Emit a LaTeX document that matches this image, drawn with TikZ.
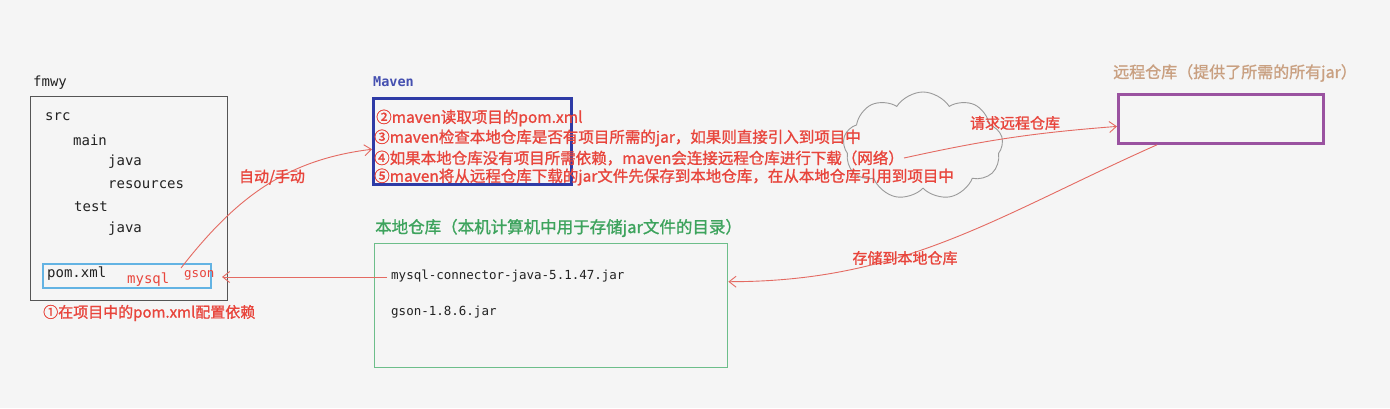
\documentclass[tikz,border=0pt]{standalone}
\usepackage{fontspec}
\setmainfont{Noto Sans CJK SC}
\setmonofont{DejaVu Sans Mono}
\newfontfamily\cjk[FakeBold=1.2]{Noto Sans CJK SC}
\usetikzlibrary{shapes.symbols,arrows.meta,calc}
\definecolor{bg}{HTML}{F5F5F5}
\definecolor{redtxt}{HTML}{E8453C}
\definecolor{redln}{HTML}{E46A62}
\definecolor{mblue}{HTML}{2E3BA6}
\definecolor{mbluetxt}{HTML}{4550B0}
\definecolor{purp}{HTML}{9A52A0}
\definecolor{gbox}{HTML}{6DBE8A}
\definecolor{gtxt}{HTML}{3DA35D}
\definecolor{tan}{HTML}{C9A081}
\definecolor{lblue}{HTML}{63B3E3}
\definecolor{dgray}{HTML}{555555}
\definecolor{cgray}{HTML}{9A9A9A}
\definecolor{ink}{HTML}{222222}
\tikzset{
  boxx/.style={draw, inner sep=0pt, anchor=north west},
  txt/.style={inner sep=0pt, anchor=west},
  tree/.style={txt, text=ink, font=\ttfamily\fontsize{14}{16}\selectfont},
  code/.style={txt, text=ink, font=\ttfamily\fontsize{12.5}{14}\selectfont},
  redline/.style={txt, text=redtxt, font=\cjk\fontsize{15.5}{18}\selectfont},
  conn/.style={draw=redln, line width=0.9pt, -{Straight Barb[length=7pt,width=11pt,line width=0.9pt]}},
}
\begin{document}
\begin{tikzpicture}[x=1pt,y=1pt]
\fill[bg] (0,0) rectangle (1390,-408);
\useasboundingbox (0,0) rectangle (1390,-408);

% project box
\node[txt, text=ink, font=\ttfamily\fontsize{14}{16}\selectfont] (fmwy) at (33,-83) {fmwy};
\node[boxx, draw=dgray, line width=1.3pt, minimum width=197pt, minimum height=204pt] (proj) at (30,-96) {};
\node[tree] (src) at (45,-117) {src};
\node[tree] (main) at (73,-140) {main};
\node[tree] (java1) at (108,-162) {java};
\node[tree] (res) at (108,-185) {resources};
\node[tree] (test) at (74,-207) {test};
\node[tree] (java2) at (108,-229) {java};
\node[boxx, draw=lblue, line width=1.5pt, minimum width=168pt, minimum height=24pt] (pom) at (42,-263) {};
\node[tree] (pomtxt) at (47,-274) {pom.xml};
\node[txt, text=redtxt, font=\ttfamily\fontsize{14}{16}\selectfont] (mysql) at (127,-280) {mysql};
\node[txt, text=redtxt, font=\ttfamily\fontsize{12.5}{14}\selectfont] (gson) at (184,-275) {gson};
\node[redline, font=\cjk\fontsize{15}{18}\selectfont] (step1) at (43,-313) {①在项目中的pom.xml配置依赖};

% maven
\node[txt, text=mbluetxt, font=\ttfamily\bfseries\fontsize{13.5}{16}\selectfont] (mvnlbl) at (373,-82) {Maven};
\node[boxx, draw=mblue, line width=2.5pt, minimum width=198pt, minimum height=86pt] (mvn) at (372,-97) {};

% cloud
\node[cloud, cloud puffs=9, cloud puff arc=115, aspect=1.5, draw=cgray, line width=0.9pt, minimum width=160pt, minimum height=108pt, inner sep=0pt] (cloud) at (923,-146) {};

\node[redline] (l2) at (376,-118) {②maven读取项目的pom.xml};
\node[redline] (l3) at (374,-138) {③maven检查本地仓库是否有项目所需的jar，如果则直接引入到项目中};
\node[redline] (l4) at (374,-158) {④如果本地仓库没有项目所需依赖，maven会连接远程仓库进行下载（网络）};
\node[redline] (l5) at (374,-177) {⑤maven将从远程仓库下载的jar文件先保存到本地仓库，在从本地仓库引用到项目中};

% remote
\node[txt, text=tan, font=\cjk\fontsize{16}{18}\selectfont] (remlbl) at (1113,-73) {远程仓库（提供了所需的所有jar）};
\node[boxx, draw=purp, line width=2.8pt, minimum width=205pt, minimum height=49pt] (remote) at (1117,-93) {};

% local
\node[txt, text=gtxt, font=\cjk\fontsize{16.5}{18}\selectfont] (loclbl) at (375,-228) {本地仓库（本机计算机中用于存储jar文件的目录）};
\node[boxx, draw=gbox, line width=1.4pt, minimum width=353pt, minimum height=124pt] (local) at (374,-243) {};
\node[code] (jar1) at (391,-276) {mysql-connector-java-5.1.47.jar};
\node[code] (jar2) at (391,-312) {gson-1.8.6.jar};

% connectors
\coordinate (s1) at (181,-268);
\coordinate (tip2) at (222,-277);
\draw[conn] (s1) to[out=52,in=187] ([yshift=-8pt]mvn.west);
\draw[conn] ([xshift=-4pt,yshift=-1pt]jar1.west) -- (tip2);
\draw[conn] (l4.east) to[bend left=4] ([yshift=-7.5pt]remote.west);
\draw[conn] ([xshift=40pt]remote.south west) to[out=204,in=0] ([yshift=24pt]local.east);

% labels
\node[redline, anchor=center, font=\cjk\fontsize{15}{18}\selectfont] (auto) at (272,-177) {自动/手动};
\node[redline, anchor=center, font=\cjk\fontsize{15}{18}\selectfont] (req) at (1015,-123) {请求远程仓库};
\node[redline, anchor=center, font=\cjk\fontsize{15}{18}\selectfont] (store) at (905,-258) {存储到本地仓库};
\end{tikzpicture}
\end{document}
